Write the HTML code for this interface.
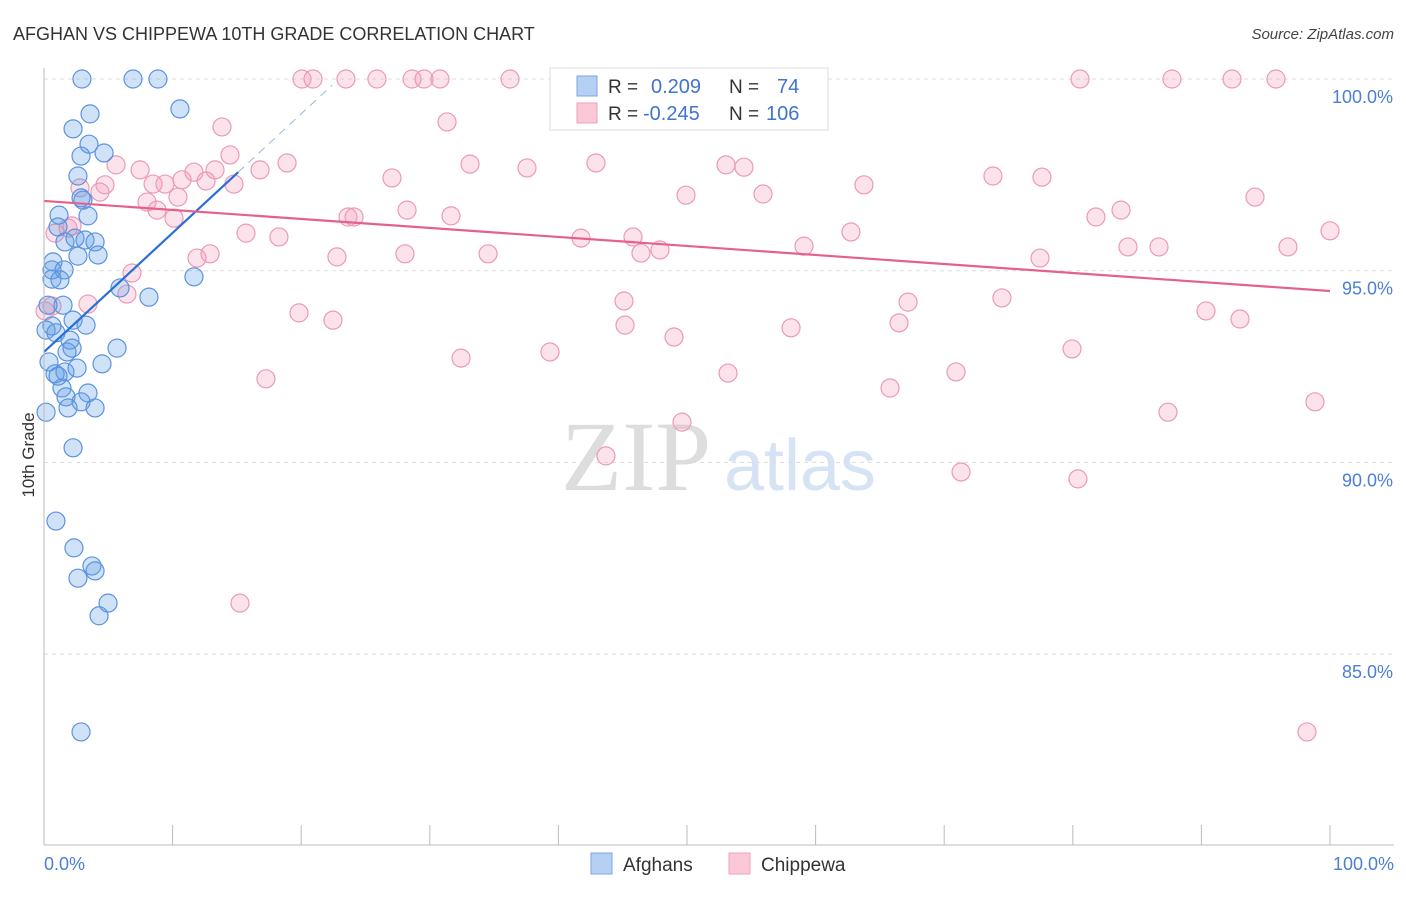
<!DOCTYPE html>
<html><head><meta charset="utf-8"><style>
body{margin:0;background:#fff;font-family:"Liberation Sans",sans-serif}
</style></head><body>
<svg width="1406" height="892" xmlns="http://www.w3.org/2000/svg" id="c" style="font-family:'Liberation Sans',sans-serif">
<text x="13" y="40" font-size="18" fill="#333">AFGHAN VS CHIPPEWA 10TH GRADE CORRELATION CHART</text>
<text x="1394" y="39" font-size="15" fill="#444" text-anchor="end" font-style="italic">Source: ZipAtlas.com</text>
<text transform="translate(34,455) rotate(-90)" font-size="17" fill="#333" text-anchor="middle">10th Grade</text>
<g><text x="636" y="490" font-size="100" fill="#ddd" text-anchor="middle" font-family="Liberation Serif">ZIP</text><text x="800" y="490" font-size="72" fill="#d5e3f5" text-anchor="middle">atlas</text></g>
<g id="grid"></g><g id="pts"></g><g id="trend"></g>
<line x1="44" y1="68" x2="44" y2="845" stroke="#bbb"/>
<line x1="44" y1="845" x2="1394" y2="845" stroke="#bbb"/>
<text x="44" y="870" font-size="18" fill="#4a7fd4">0.0%</text>
<text x="1394" y="870" font-size="18" fill="#4a7fd4" text-anchor="end">100.0%</text>
<g>
<rect x="550" y="68" width="278" height="62" fill="#fff" stroke="#ddd"/>
<rect x="577" y="76" width="20" height="20" fill="#b5d0f3" stroke="#7aa6e6"/>
<rect x="577" y="103" width="20" height="20" fill="#fbc8d7" stroke="#efa0b8"/>
<text x="608" y="93" font-size="19" fill="#333">R = </text><text x="651" y="93" font-size="20" fill="#3f74cf">0.209</text>
<text x="729" y="93" font-size="19" fill="#333">N = </text><text x="777" y="93" font-size="20" fill="#3f74cf">74</text>
<text x="608" y="120" font-size="19" fill="#333">R = </text><text x="643" y="120" font-size="20" fill="#3f74cf">-0.245</text>
<text x="729" y="120" font-size="19" fill="#333">N = </text><text x="766" y="120" font-size="20" fill="#3f74cf">106</text>
</g>
<g>
<rect x="591" y="853" width="21" height="21" fill="#b5d0f3" stroke="#7aa6e6"/><text x="623" y="871" font-size="19" fill="#333">Afghans</text>
<rect x="729" y="853" width="21" height="21" fill="#fbc8d7" stroke="#efa0b8"/><text x="761" y="871" font-size="19" fill="#333">Chippewa</text>
</g>
</svg>
<script>
const yTicks=[100,95,90,85];
const yTickLabels=["100.0%","95.0%","90.0%","85.0%"];
const xTicks=[0,10,20,30,40,50,60,70,80,90,100];
const afghanX=[2.95,6.92,8.86,10.57,2.26,3.58,3.5,2.88,4.67,2.64,3.03,2.88,1.17,3.42,1.09,1.63,2.41,3.19,3.97,4.2,2.64,0.7,0.62,1.56,0.62,1.24,5.91,8.16,11.66,1.48,0.31,0.62,2.26,3.27,0.16,0.93,2.02,1.79,2.18,5.68,4.51,0.39,0.86,1.63,2.57,1.4,3.42,1.71,2.88,3.97,1.87,0.16,2.26,0.93,2.33,2.64,3.73,3.97,4.98,4.28,2.88,1.09];
const afghanY=[100,100,100,99.22,98.7,99.09,98.3,97.99,98.07,97.47,96.84,96.9,96.45,96.43,96.14,95.75,95.85,95.8,95.75,95.41,95.38,95.23,95.02,95.02,94.78,94.76,94.55,94.31,94.84,94.1,94.1,93.56,93.71,93.58,93.45,93.38,93.19,92.88,92.98,92.98,92.57,92.62,92.31,92.36,92.46,91.94,91.81,91.71,91.58,91.42,91.42,91.31,90.38,88.47,87.77,86.98,87.3,87.17,86.33,86.0,82.97,92.25];
const chipX=[20.06,20.92,23.48,25.89,28.62,29.55,30.79,36.24,80.56,87.71,92.38,95.8,13.84,31.34,51.63,14.46,5.6,7.47,11.66,13.3,16.8,18.9,27.06,33.13,37.56,42.92,53.03,54.43,63.76,73.79,77.6,2.8,4.74,8.48,9.41,10.73,12.6,14.77,4.35,8.01,8.79,10.42,10.11,49.92,55.91,94.17,28.23,31.65,23.64,24.11,81.8,83.75,0.86,1.87,2.18,15.71,18.27,41.76,45.8,46.42,47.9,59.1,62.75,84.29,86.7,96.73,100,12.91,11.9,22.78,28.07,34.53,77.45,6.84,6.45,3.42,0.62,19.83,22.47,45.1,45.18,67.19,74.49,90.36,93.0,48.99,58.09,66.49,39.35,32.43,79.94,17.26,53.19,70.92,65.79,49.61,87.4,98.83,43.7,71.31,80.4,15.24,98.21,0.08];
const chipY=[100,100,100,100,100,100,100,100,100,100,100,100,98.75,98.88,99.22,98.02,97.76,97.63,97.57,97.63,97.63,97.81,97.42,97.78,97.68,97.81,97.76,97.7,97.24,97.47,97.44,97.16,97.24,97.26,97.26,97.37,97.34,97.26,97.05,96.79,96.58,96.92,96.37,96.97,97.0,96.92,96.58,96.43,96.4,96.4,96.4,96.58,95.98,96.11,96.17,95.98,95.88,95.85,95.88,95.46,95.54,95.64,96.01,95.62,95.62,95.62,96.04,95.44,95.33,95.36,95.44,95.44,95.33,94.94,94.39,94.13,94.08,93.9,93.71,94.21,93.58,94.18,94.29,93.95,93.74,93.27,93.51,93.64,92.88,92.72,92.96,92.18,92.33,92.36,91.94,91.05,91.31,91.58,90.17,89.75,89.57,86.33,82.97,93.95];
const afghanTrend=[0,92.88,15.1,97.57,22.4];
const chipTrend=[0,96.82,100,94.47];
const NS='http://www.w3.org/2000/svg';
const sx=v=>44+v*12.86, sy=v=>79+(100-v)*38.34;
function mk(t,a,p){const e=document.createElementNS(NS,t);for(const k in a)e.setAttribute(k,a[k]);p.appendChild(e);return e;}
const g=document.getElementById('grid');
yTicks.forEach((t,i)=>{const l=mk('line',{x1:44,x2:1394,y1:sy(t),y2:sy(t),stroke:'#ddd','stroke-dasharray':'4,4'},g);


const tx=mk('text',{x:1393,y:sy(t)+24,'font-size':18,fill:'#4a7fd4','text-anchor':'end'},g);tx.textContent=yTickLabels[i];

});
xTicks.forEach(t=>{const l=mk('line',{x1:sx(t),x2:sx(t),y1:825,y2:845,stroke:'#bbb'},g);

});
const p=document.getElementById('pts');
chipX.forEach((x,i)=>{const c=mk('circle',{cx:sx(x),cy:sy(chipY[i]),r:9,fill:'rgba(245,160,190,0.3)',stroke:'#eb9ab5','stroke-width':1.2},p);

});
afghanX.forEach((x,i)=>{const c=mk('circle',{cx:sx(x),cy:sy(afghanY[i]),r:9,fill:'rgba(100,160,230,0.3)',stroke:'#5b93df','stroke-width':1.2},p);

});
const tr=document.getElementById('trend');
const sl=(afghanTrend[3]-afghanTrend[1])/(afghanTrend[2]-afghanTrend[0]);
let l=mk('line',{x1:sx(afghanTrend[0]),y1:sy(afghanTrend[1]),x2:sx(afghanTrend[2]),y2:sy(afghanTrend[3]),stroke:'#2a6fd8','stroke-width':2.2},tr);


l=mk('line',{x1:sx(afghanTrend[2]),y1:sy(afghanTrend[3]),x2:sx(afghanTrend[4]),y2:sy(afghanTrend[1]+sl*afghanTrend[4]),stroke:'#9bb5e0','stroke-width':1,'stroke-dasharray':'8,6'},tr);


l=mk('line',{x1:sx(chipTrend[0]),y1:sy(chipTrend[1]),x2:sx(chipTrend[2]),y2:sy(chipTrend[3]),stroke:'#e4618e','stroke-width':2.2},tr);


</script>
</body></html>
